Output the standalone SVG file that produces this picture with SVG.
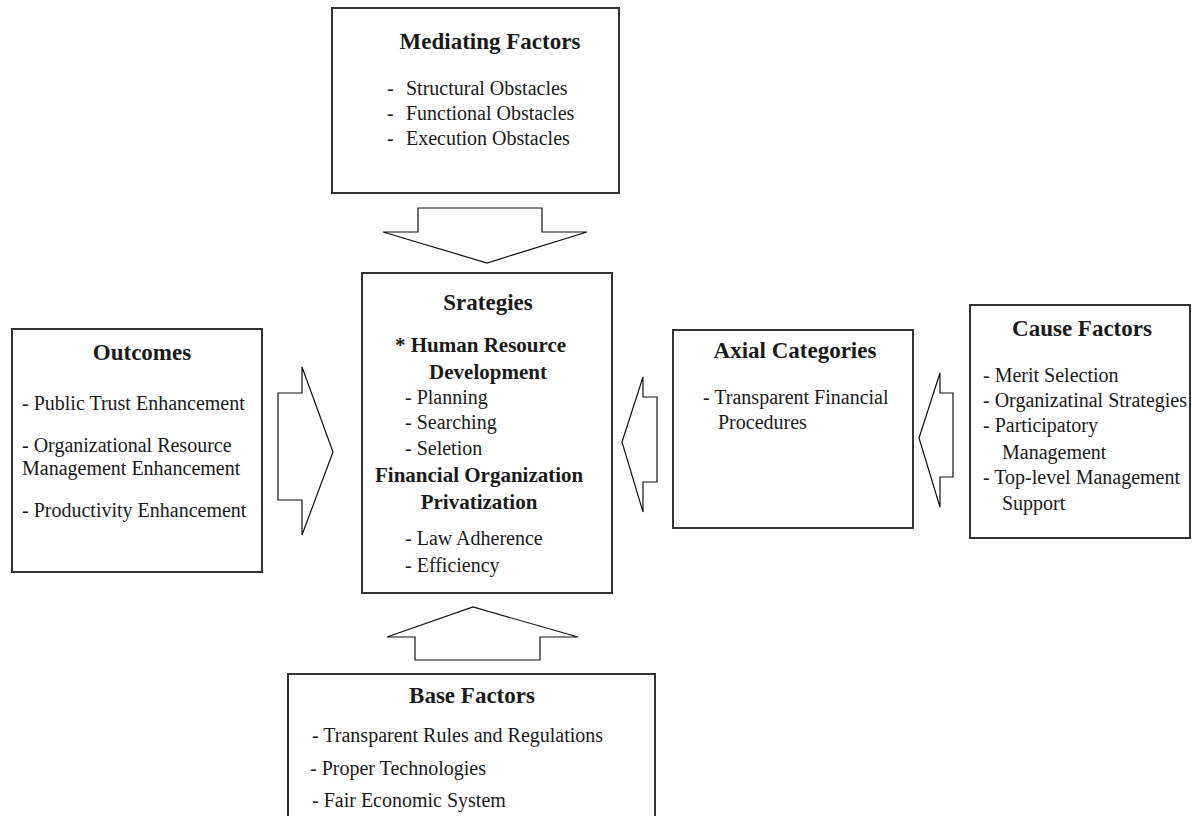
<svg xmlns="http://www.w3.org/2000/svg" width="1192" height="816" viewBox="0 0 1192 816">
<style>
.box{fill:#fff;stroke:#333;stroke-width:2}
.arr{fill:#fff;stroke:#111;stroke-width:1.2;stroke-linejoin:miter}
.t{font-family:"Liberation Serif","Times New Roman",serif;font-size:23px;font-weight:bold;fill:#1a1a1a;text-anchor:middle}
.h{font-family:"Liberation Serif","Times New Roman",serif;font-size:21px;font-weight:bold;fill:#1a1a1a}
.b{font-family:"Liberation Serif","Times New Roman",serif;font-size:20px;fill:#1a1a1a}
</style>
<rect width="1192" height="816" fill="#fff"/>
<g id="connectors">
<polygon class="arr" points="418,208 542,208 542,232 587,232 487,263 383,232 418,232"/>
<polygon class="arr" points="278,393 302,393 302,367 333,452 302,535 302,500 278,500"/>
<polygon class="arr" points="415,660 540,660 540,637 578,637 473,607 387,637 415,637"/>
<polygon class="arr" points="657,397 643,397 643,377 622,442 643,512 643,482 657,482"/>
<polygon class="arr" points="953,393 940,393 940,373 919,438 940,507 940,477 953,477"/>
</g>
<g id="mediating">
<rect class="box" x="332" y="8" width="287" height="185"/>
<text class="t" x="490" y="49">Mediating Factors</text>
<text class="b" x="387" y="95">-<tspan x="406">Structural Obstacles</tspan></text>
<text class="b" x="387" y="120">-<tspan x="406">Functional Obstacles</tspan></text>
<text class="b" x="387" y="145">-<tspan x="406">Execution Obstacles</tspan></text>
</g>
<g id="outcomes">
<rect class="box" x="12" y="329" width="250" height="243"/>
<text class="t" x="142" y="360">Outcomes</text>
<text class="b" x="22" y="410">- Public Trust Enhancement</text>
<text class="b" x="22" y="452">- Organizational Resource</text>
<text class="b" x="22" y="475">Management Enhancement</text>
<text class="b" x="22" y="517">- Productivity Enhancement</text>
</g>
<g id="strategies">
<rect class="box" x="362" y="273" width="250" height="320"/>
<text class="t" x="488" y="310">Srategies</text>
<text class="h" x="395" y="352">* Human Resource</text>
<text class="h" x="488" y="379" text-anchor="middle">Development</text>
<text class="b" x="405" y="404">- Planning</text>
<text class="b" x="405" y="429">- Searching</text>
<text class="b" x="405" y="455">- Seletion</text>
<text class="h" x="375" y="482">Financial Organization</text>
<text class="h" x="479" y="509" text-anchor="middle">Privatization</text>
<text class="b" x="405" y="545">- Law Adherence</text>
<text class="b" x="405" y="572">- Efficiency</text>
</g>
<g id="axial">
<rect class="box" x="673" y="330" width="240" height="198"/>
<text class="t" x="795" y="358">Axial Categories</text>
<text class="b" x="703" y="404">- Transparent Financial</text>
<text class="b" x="718" y="429">Procedures</text>
</g>
<g id="cause">
<rect class="box" x="970" y="305" width="220" height="233"/>
<text class="t" x="1082" y="336">Cause Factors</text>
<text class="b" x="983" y="382">- Merit Selection</text>
<text class="b" x="983" y="407">- Organizatinal Strategies</text>
<text class="b" x="983" y="432">- Participatory</text>
<text class="b" x="1002" y="459">Management</text>
<text class="b" x="983" y="484">- Top-level Management</text>
<text class="b" x="1002" y="510">Support</text>
</g>
<g id="base">
<rect class="box" x="288" y="674" width="367" height="160"/>
<text class="t" x="472" y="703">Base Factors</text>
<text class="b" x="312" y="742">- Transparent Rules and Regulations</text>
<text class="b" x="310" y="775">- Proper Technologies</text>
<text class="b" x="312" y="807">- Fair Economic System</text>
</g>
</svg>
